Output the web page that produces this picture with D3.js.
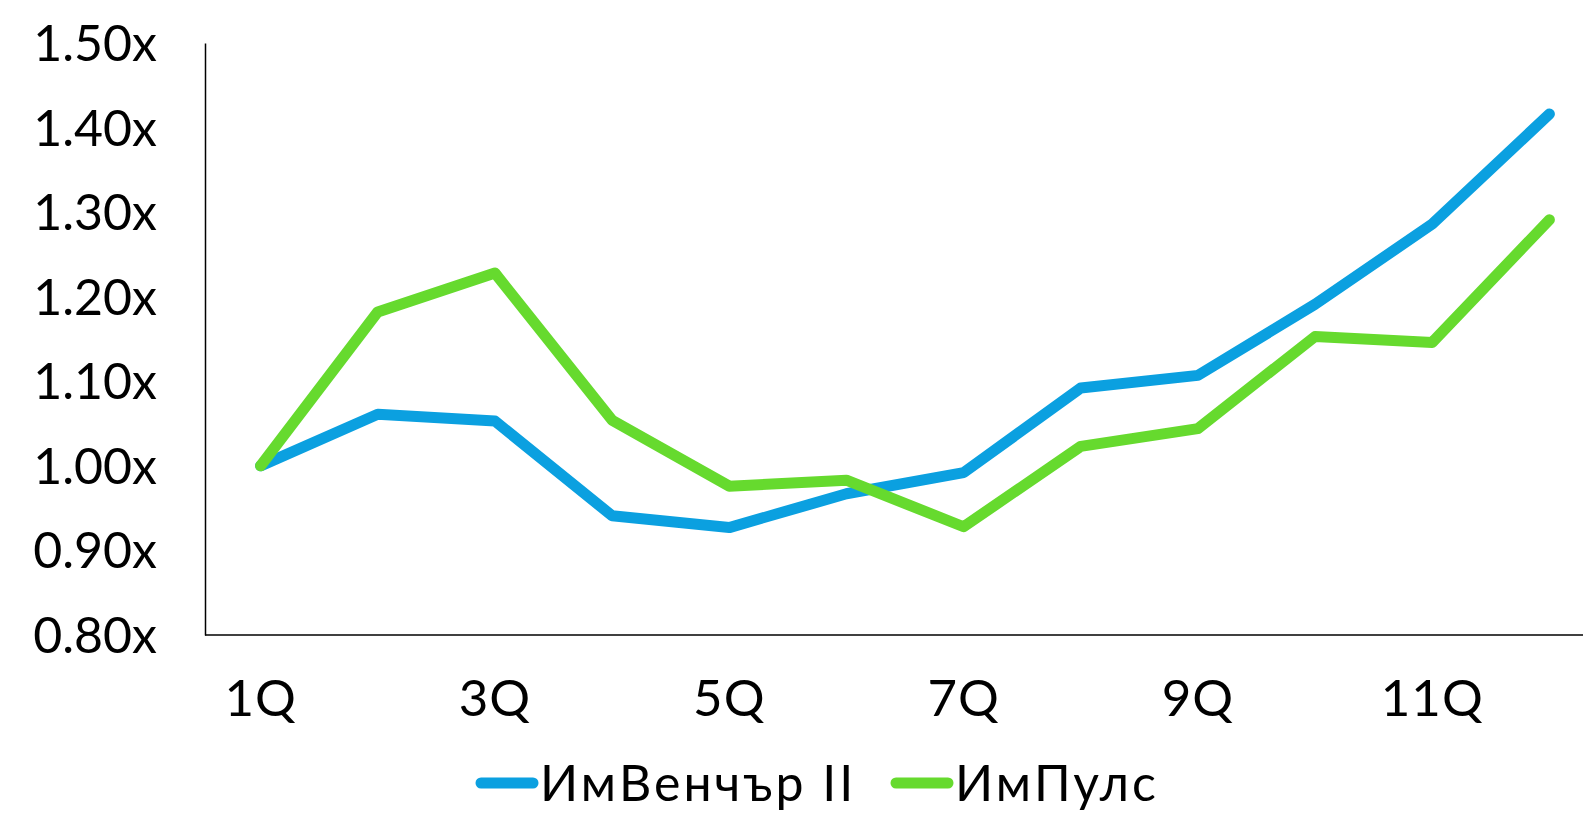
<!DOCTYPE html>
<html>
<head>
<meta charset="utf-8">
<script src="https://cdn.jsdelivr.net/npm/d3@7"></script>
<style>
  html, body { margin: 0; padding: 0; background: #fff; overflow: hidden; }
  svg { display: block; }
  text { font-family: Lato, "Open Sans", sans-serif; fill: #000; }
</style>
</head>
<body>
<svg id="chart"></svg>
<script>
// quarters on the x axis
const quarters = ['1Q','2Q','3Q','4Q','5Q','6Q','7Q','8Q','9Q','10Q','11Q','12Q'];
// multiple values per series
const venture = [1.00, 1.061, 1.053, 0.941, 0.927, 0.967, 0.992, 1.092, 1.107, 1.191, 1.286, 1.416];
const impuls  = [1.00, 1.182, 1.228, 1.054, 0.976, 0.983, 0.928, 1.023, 1.044, 1.153, 1.146, 1.291];
const seriesNames = ['ИмВенчър II', 'ИмПулс'];
const yTicks = [0.8, 0.9, 1.0, 1.1, 1.2, 1.3, 1.4, 1.5];

const W = 1583, H = 817;
const colors = ['#0ba0e0', '#66da2e'];

const svg = d3.select('#chart').attr('width', W).attr('height', H);

const x = d3.scaleBand().domain(quarters).range([202, 1608]);
const y = d3.scaleLinear().domain([0.8, 1.5]).range([635, 43]);
const xc = q => x(q) + x.bandwidth() / 2;

// y axis (line + labels, no tick marks)
const yAxis = svg.append('g')
  .attr('transform', 'translate(205,0)')
  .call(d3.axisLeft(y).tickValues(yTicks).tickSize(0).tickPadding(48)
    .tickFormat(d => d3.format('.2f')(d) + 'x'));
yAxis.select('.domain').attr('stroke', '#000').attr('stroke-width', 1.5);
yAxis.selectAll('text').style('font-size', '50px').attr('dy', '0.35em');

// x axis: every other label
const xAxis = svg.append('g')
  .attr('transform', 'translate(0,635)')
  .call(d3.axisBottom(x).tickSize(0).tickPadding(45)
    .tickFormat((d, i) => i % 2 === 0 ? d : ''));
xAxis.select('.domain').attr('d', 'M205,0H1608').attr('stroke', '#000').attr('stroke-width', 1.5);
xAxis.selectAll('text').style('font-size', '51px').style('letter-spacing', '1px');

// lines
const line = d3.line().x((d, i) => xc(quarters[i])).y(d => y(d));
[venture, impuls].forEach((vals, k) => {
  svg.append('path')
    .datum(vals)
    .attr('fill', 'none')
    .attr('stroke', colors[k])
    .attr('stroke-width', 11)
    .attr('stroke-linejoin', 'round')
    .attr('stroke-linecap', 'round')
    .attr('d', line);
});

// legend
const legendX = [481, 896];
const legend = svg.append('g').attr('transform', 'translate(0,783)');
seriesNames.forEach((name, k) => {
  legend.append('line')
    .attr('x1', legendX[k]).attr('x2', legendX[k] + 52)
    .attr('y1', 0).attr('y2', 0)
    .attr('stroke', colors[k]).attr('stroke-width', 11)
    .attr('stroke-linecap', 'round');
  legend.append('text')
    .attr('x', legendX[k] + 59).attr('y', 0).attr('dy', '0.35em')
    .style('font-size', '50px')
    .style('letter-spacing', '3px')
    .text(name);
});
</script>
</body>
</html>
